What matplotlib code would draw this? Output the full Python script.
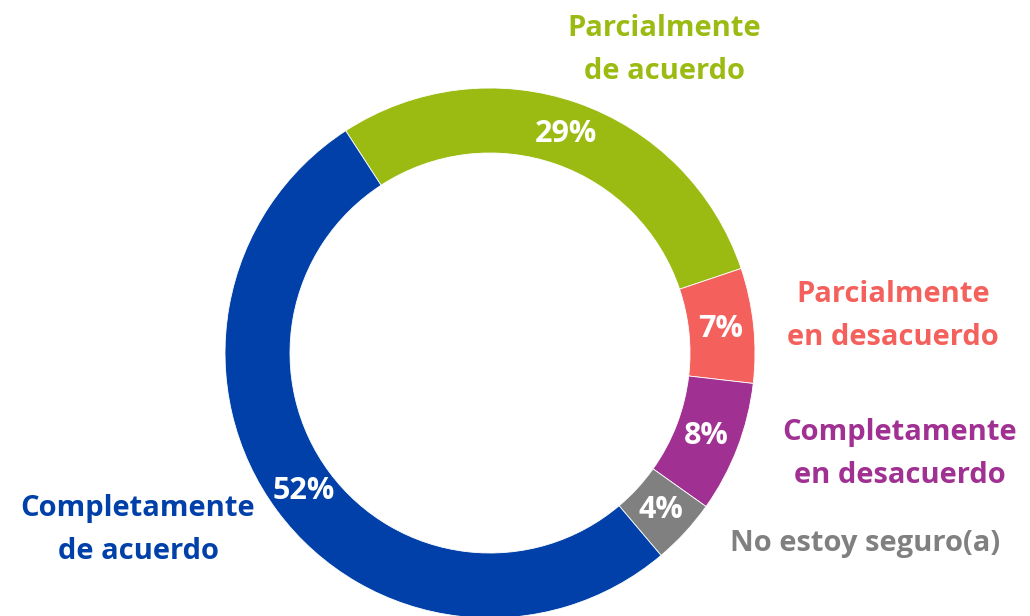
import matplotlib
matplotlib.use("Agg")
import matplotlib.pyplot as plt

# Data
labels = ["Parcialmente\nde acuerdo", "Parcialmente\nen desacuerdo",
          "Completamente\nen desacuerdo", "No estoy seguro(a)",
          "Completamente\nde acuerdo"]
values = [29, 7, 8, 4, 52]
colors = ["#9BBB12", "#F4615D", "#A03091", "#808080", "#0040A8"]

# label anchor positions in pixels (x, y from top)
label_pos = [(664, 50), (893, 316), (900, 454), (865, 544), (138, 530)]

W, H = 1030, 616
plt.rcParams["font.family"] = ["Open Sans", "DejaVu Sans"]

fig = plt.figure(figsize=(W / 100, H / 100), dpi=100)
ax = fig.add_axes([0, 0, 1, 1])

cx, cy, r = 490, H - 353, 265
wedges, _, pcts = ax.pie(
    values, colors=colors, startangle=123, counterclock=False,
    radius=r, center=(cx, cy), autopct="%d%%", pctdistance=0.875,
    wedgeprops=dict(width=65, edgecolor="white", linewidth=0.6),
    textprops=dict(color="white", fontsize=22, fontweight="bold"),
    frame=True,
)
ax.set_xlim(0, W)
ax.set_ylim(0, H)
ax.set_aspect("equal")
ax.axis("off")

for lab, (x, y), c in zip(labels, label_pos, colors):
    ax.text(x, H - y, lab, color=c, fontsize=21, fontweight="bold",
            ha="center", va="center", linespacing=1.6)

fig.savefig("out.png", dpi=100)
